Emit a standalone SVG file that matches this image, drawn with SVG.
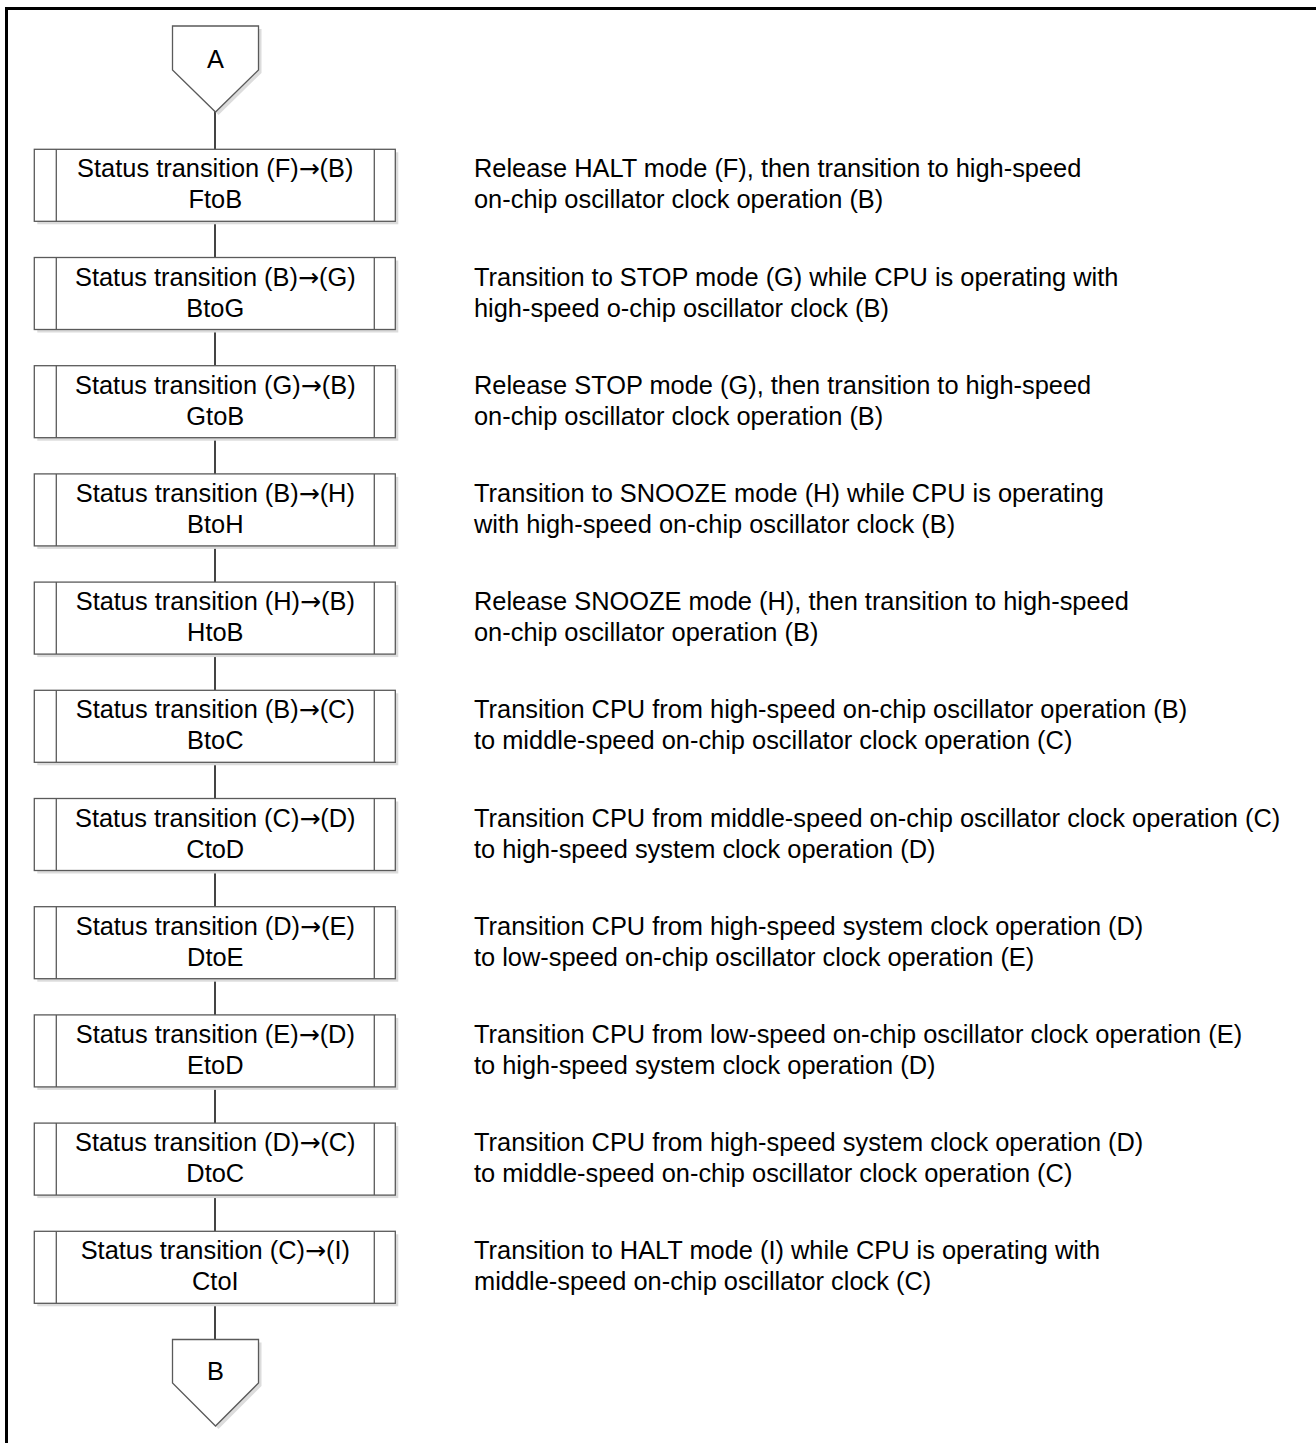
<svg xmlns="http://www.w3.org/2000/svg" width="1316" height="1443" viewBox="0 0 1316 1443">
<defs>
<style>
.frame{fill:none;stroke:#000;stroke-width:3}
.shadow{fill:#dcdcdc;stroke:none}
.box{fill:#fff;stroke:#5a5a5a;stroke-width:1.3}
.conn{stroke:#444;stroke-width:2;fill:none}
.t{font-family:"Liberation Sans",Arial,sans-serif;font-size:25.4px;fill:#000}
.c{text-anchor:middle}
.ar{font-family:"DejaVu Sans",sans-serif;font-size:25px}
</style>
<g id="proc">
<rect class="shadow" x="3" y="3" width="361" height="72"/>
<rect class="box" x="0" y="0" width="361" height="72"/>
<line class="box" x1="22" y1="0" x2="22" y2="72"/>
<line class="box" x1="340" y1="0" x2="340" y2="72"/>
</g>
</defs>
<rect width="1316" height="1443" fill="#fff"/>
<rect class="frame" x="6.5" y="8.5" width="1320" height="1450"/>

<g id="connectors">
<line class="conn" x1="215" y1="111" x2="215" y2="149.3"/>
<line class="conn" x1="215" y1="221.3" x2="215" y2="257.5"/>
<line class="conn" x1="215" y1="329.5" x2="215" y2="365.7"/>
<line class="conn" x1="215" y1="437.7" x2="215" y2="473.9"/>
<line class="conn" x1="215" y1="545.9" x2="215" y2="582.1"/>
<line class="conn" x1="215" y1="654.1" x2="215" y2="690.3"/>
<line class="conn" x1="215" y1="762.3" x2="215" y2="798.5"/>
<line class="conn" x1="215" y1="870.5" x2="215" y2="906.7"/>
<line class="conn" x1="215" y1="978.7" x2="215" y2="1014.9"/>
<line class="conn" x1="215" y1="1086.9" x2="215" y2="1123.1"/>
<line class="conn" x1="215" y1="1195.1" x2="215" y2="1231.3"/>
<line class="conn" x1="215" y1="1303.3" x2="215" y2="1339.5"/>
</g>

<g id="offpageA">
<polygon class="shadow" points="175.5,29 261.5,29 261.5,73 218.5,115 175.5,73"/>
<polygon class="box" points="172.5,26 258.5,26 258.5,70 215.5,112 172.5,70"/>
<text class="t c" x="215.5" y="68">A</text>
</g>

<g id="FtoB" transform="translate(34.3,149.3)">
<use href="#proc"/>
<text class="t c" x="181" y="28">Status transition (F)<tspan class="ar">→</tspan>(B)</text>
<text class="t c" x="181" y="59">FtoB</text>
<text class="t" x="439.7" y="28">Release HALT mode (F), then transition to high-speed</text>
<text class="t" x="439.7" y="59">on-chip oscillator clock operation (B)</text>
</g>
<g id="BtoG" transform="translate(34.3,257.5)">
<use href="#proc"/>
<text class="t c" x="181" y="28">Status transition (B)<tspan class="ar">→</tspan>(G)</text>
<text class="t c" x="181" y="59">BtoG</text>
<text class="t" x="439.7" y="28">Transition to STOP mode (G) while CPU is operating with</text>
<text class="t" x="439.7" y="59">high-speed o-chip oscillator clock (B)</text>
</g>
<g id="GtoB" transform="translate(34.3,365.7)">
<use href="#proc"/>
<text class="t c" x="181" y="28">Status transition (G)<tspan class="ar">→</tspan>(B)</text>
<text class="t c" x="181" y="59">GtoB</text>
<text class="t" x="439.7" y="28">Release STOP mode (G), then transition to high-speed</text>
<text class="t" x="439.7" y="59">on-chip oscillator clock operation (B)</text>
</g>
<g id="BtoH" transform="translate(34.3,473.9)">
<use href="#proc"/>
<text class="t c" x="181" y="28">Status transition (B)<tspan class="ar">→</tspan>(H)</text>
<text class="t c" x="181" y="59">BtoH</text>
<text class="t" x="439.7" y="28">Transition to SNOOZE mode (H) while CPU is operating</text>
<text class="t" x="439.7" y="59">with high-speed on-chip oscillator clock (B)</text>
</g>
<g id="HtoB" transform="translate(34.3,582.1)">
<use href="#proc"/>
<text class="t c" x="181" y="28">Status transition (H)<tspan class="ar">→</tspan>(B)</text>
<text class="t c" x="181" y="59">HtoB</text>
<text class="t" x="439.7" y="28">Release SNOOZE mode (H), then transition to high-speed</text>
<text class="t" x="439.7" y="59">on-chip oscillator operation (B)</text>
</g>
<g id="BtoC" transform="translate(34.3,690.3)">
<use href="#proc"/>
<text class="t c" x="181" y="28">Status transition (B)<tspan class="ar">→</tspan>(C)</text>
<text class="t c" x="181" y="59">BtoC</text>
<text class="t" x="439.7" y="28">Transition CPU from high-speed on-chip oscillator operation (B)</text>
<text class="t" x="439.7" y="59">to middle-speed on-chip oscillator clock operation (C)</text>
</g>
<g id="CtoD" transform="translate(34.3,798.5)">
<use href="#proc"/>
<text class="t c" x="181" y="28">Status transition (C)<tspan class="ar">→</tspan>(D)</text>
<text class="t c" x="181" y="59">CtoD</text>
<text class="t" x="439.7" y="28">Transition CPU from middle-speed on-chip oscillator clock operation (C)</text>
<text class="t" x="439.7" y="59">to high-speed system clock operation (D)</text>
</g>
<g id="DtoE" transform="translate(34.3,906.7)">
<use href="#proc"/>
<text class="t c" x="181" y="28">Status transition (D)<tspan class="ar">→</tspan>(E)</text>
<text class="t c" x="181" y="59">DtoE</text>
<text class="t" x="439.7" y="28">Transition CPU from high-speed system clock operation (D)</text>
<text class="t" x="439.7" y="59">to low-speed on-chip oscillator clock operation (E)</text>
</g>
<g id="EtoD" transform="translate(34.3,1014.9)">
<use href="#proc"/>
<text class="t c" x="181" y="28">Status transition (E)<tspan class="ar">→</tspan>(D)</text>
<text class="t c" x="181" y="59">EtoD</text>
<text class="t" x="439.7" y="28">Transition CPU from low-speed on-chip oscillator clock operation (E)</text>
<text class="t" x="439.7" y="59">to high-speed system clock operation (D)</text>
</g>
<g id="DtoC" transform="translate(34.3,1123.1)">
<use href="#proc"/>
<text class="t c" x="181" y="28">Status transition (D)<tspan class="ar">→</tspan>(C)</text>
<text class="t c" x="181" y="59">DtoC</text>
<text class="t" x="439.7" y="28">Transition CPU from high-speed system clock operation (D)</text>
<text class="t" x="439.7" y="59">to middle-speed on-chip oscillator clock operation (C)</text>
</g>
<g id="CtoI" transform="translate(34.3,1231.3)">
<use href="#proc"/>
<text class="t c" x="181" y="28">Status transition (C)<tspan class="ar">→</tspan>(I)</text>
<text class="t c" x="181" y="59">CtoI</text>
<text class="t" x="439.7" y="28">Transition to HALT mode (I) while CPU is operating with</text>
<text class="t" x="439.7" y="59">middle-speed on-chip oscillator clock (C)</text>
</g>

<g id="offpageB">
<polygon class="shadow" points="175.5,1342.5 261.5,1342.5 261.5,1386 218.5,1429 175.5,1386"/>
<polygon class="box" points="172.5,1339.5 258.5,1339.5 258.5,1383 215.5,1426 172.5,1383"/>
<text class="t c" x="215.5" y="1380">B</text>
</g>
</svg>
